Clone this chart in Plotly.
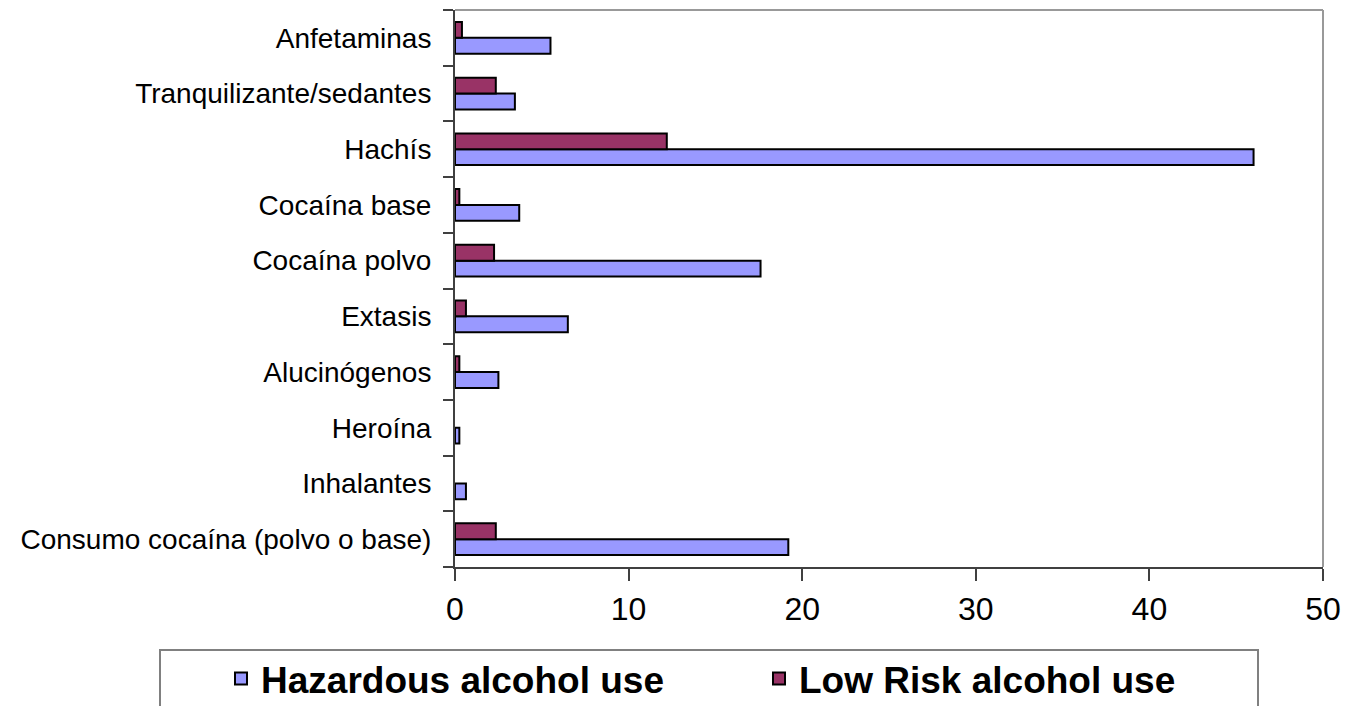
import plotly.graph_objects as go

# categories listed bottom -> top (plotly puts the first category at the bottom)
categories = ["Consumo cocaína (polvo o base)", "Inhalantes", "Heroína", "Alucinógenos",
              "Extasis", "Cocaína polvo", "Cocaína base", "Hachís",
              "Tranquilizante/sedantes", "Anfetaminas"]
hazardous = [19.2, 0.63, 0.25, 2.5, 6.5, 17.6, 3.7, 46.0, 3.45, 5.5]
low_risk = [2.35, None, None, 0.25, 0.63, 2.25, 0.25, 12.2, 2.35, 0.4]
x_ticks = [0, 10, 20, 30, 40, 50]

W, H = 1346, 706
L, R, T, B = 455, 23, 10, 139
pw, ph = W - L - R, H - T - B


def px_x(p):
    # screen pixel x -> paper fraction
    return (p - L) / pw


def px_y(p):
    return (H - B - p) / ph


fig = go.Figure()
fig.add_trace(go.Bar(y=categories, x=hazardous, orientation="h", name="Hazardous alcohol use",
                     marker=dict(color="#9999FF", line=dict(color="black", width=2))))
fig.add_trace(go.Bar(y=categories, x=low_risk, orientation="h", name="Low Risk alcohol use",
                     marker=dict(color="#993366", line=dict(color="black", width=2))))

font = "Liberation Sans, Arial, sans-serif"

fig.update_layout(
    width=W, height=H,
    margin=dict(l=L, r=R, t=T, b=B, autoexpand=False),
    paper_bgcolor="white", plot_bgcolor="white",
    barmode="group", bargap=0.43, bargroupgap=0,
    font=dict(family=font, color="black"),
    legend=dict(orientation="h", x=px_x(221), xanchor="left", y=px_y(648), yanchor="top",
                entrywidth=493, entrywidthmode="pixels", traceorder="normal",
                font=dict(family=font, size=37, color="black", weight="bold"),
                bgcolor="rgba(0,0,0,0)", borderwidth=0),
    xaxis=dict(range=[0, 50], tickvals=x_ticks, showgrid=False, zeroline=False,
               showline=True, linecolor="#404040", linewidth=2, automargin=False,
               ticks="outside", ticklen=12, tickwidth=2, tickcolor="#404040",
               ticklabelstandoff=1, tickfont=dict(size=32, family=font)),
    yaxis=dict(type="category", categoryorder="array", categoryarray=categories,
               showgrid=False, zeroline=False, showline=True, linecolor="#404040", linewidth=2,
               ticks="outside", ticklen=10, tickwidth=2, tickcolor="#404040", automargin=False,
               tickson="boundaries", ticklabelstandoff=16,
               tickfont=dict(size=28, family=font)),
    showlegend=True,
)

# plot frame (top and right edges)
fig.add_shape(type="line", xref="paper", yref="paper", x0=0, x1=1, y0=1, y1=1,
              line=dict(color="#999999", width=2))
fig.add_shape(type="line", xref="paper", yref="paper", x0=1, x1=1, y0=0, y1=1,
              line=dict(color="#999999", width=2))
# legend box
fig.add_shape(type="rect", xref="paper", yref="paper",
              x0=px_x(160), x1=px_x(1258), y0=px_y(650), y1=px_y(730),
              line=dict(color="#808080", width=2))

# drop the default page margin so the figure fills the window
fig.write_html("out.html", config={"displayModeBar": False},
               post_script="document.body.style.margin='0';"
                           "document.documentElement.style.overflow='hidden';")
